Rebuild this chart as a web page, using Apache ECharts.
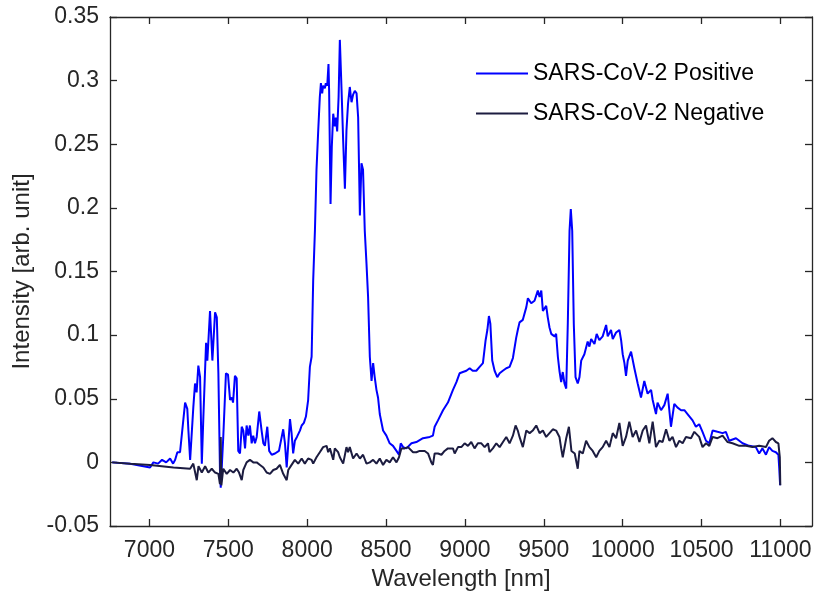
<!DOCTYPE html>
<html>
<head>
<meta charset="utf-8">
<script src="https://cdn.jsdelivr.net/npm/echarts@6/dist/echarts.min.js"></script>
<style>
html,body{margin:0;padding:0;background:#fff;}
#chart{width:817px;height:597px;}
</style>
</head>
<body>
<div id="chart"></div>
<script>
// ---- data ----
const seriesNames = ['SARS-CoV-2 Positive', 'SARS-CoV-2 Negative'];
const xTicks = [7000, 7500, 8000, 8500, 9000, 9500, 10000, 10500, 11000];

const posWavelength = [6764,6878,7004,7025,7055,7080,7106,7131,7150,7163,7177,7194,7226,7240,7247,7258,7278,7289,7299,7310,7321,7332,7342,7359,7367,7384,7399,7416,7427,7437,7447,7452,7468,7485,7498,7511,7522,7530,7542,7553,7563,7574,7585,7595,7606,7616,7627,7637,7648,7658,7669,7680,7696,7711,7722,7732,7747,7759,7775,7796,7821,7848,7859,7870,7891,7901,7911,7922,7935,7954,7965,7979,7992,8006,8017,8028,8038,8049,8059,8070,8080,8087,8095,8101,8112,8118,8127,8135,8139,8148,8156,8165,8175,8182,8190,8199,8207,8218,8228,8239,8249,8259,8270,8281,8291,8302,8313,8323,8334,8344,8354,8365,8376,8386,8397,8408,8418,8428,8439,8449,8460,8481,8502,8523,8544,8566,8582,8593,8608,8629,8661,8692,8734,8777,8797,8808,8829,8861,8892,8924,8946,8966,8987,9009,9030,9049,9072,9093,9114,9131,9142,9152,9161,9173,9188,9205,9220,9240,9262,9283,9304,9325,9335,9346,9367,9389,9399,9420,9441,9462,9473,9484,9494,9515,9525,9536,9547,9568,9578,9589,9599,9610,9620,9631,9642,9652,9663,9671,9680,9690,9701,9715,9726,9737,9757,9778,9789,9800,9821,9835,9852,9873,9895,9905,9926,9937,9958,9979,9990,10000,10011,10021,10032,10053,10074,10095,10116,10137,10158,10180,10190,10211,10221,10243,10264,10285,10306,10327,10348,10370,10391,10411,10443,10464,10485,10506,10528,10549,10570,10601,10633,10654,10675,10718,10760,10802,10844,10865,10886,10908,10928,10949,10971,10987,10992,10998];
const posIntensity = [0.000,-0.001,-0.004,0.000,-0.001,0.002,0.000,0.003,-0.001,0.002,0.008,0.008,0.047,0.042,0.025,0.002,0.043,0.062,0.055,0.076,0.067,-0.001,0.036,0.094,0.080,0.119,0.080,0.118,0.114,0.070,-0.006,-0.020,0.020,0.070,0.069,0.049,0.051,0.047,0.068,0.066,0.009,0.007,0.028,0.025,0.011,0.029,0.021,0.029,0.015,0.021,0.015,0.020,0.040,0.025,0.015,0.013,0.028,0.009,0.006,0.007,0.009,0.026,0.015,-0.004,0.034,0.023,0.007,0.017,0.020,0.025,0.029,0.031,0.036,0.049,0.075,0.083,0.143,0.182,0.230,0.261,0.287,0.298,0.290,0.296,0.294,0.298,0.296,0.313,0.292,0.203,0.248,0.274,0.264,0.271,0.260,0.287,0.332,0.292,0.253,0.215,0.261,0.282,0.295,0.283,0.289,0.292,0.290,0.271,0.194,0.235,0.230,0.182,0.156,0.130,0.083,0.064,0.078,0.067,0.057,0.051,0.038,0.025,0.021,0.015,0.013,0.009,0.006,0.015,0.012,0.011,0.015,0.016,0.019,0.020,0.021,0.028,0.033,0.041,0.047,0.057,0.063,0.070,0.071,0.072,0.074,0.072,0.072,0.075,0.078,0.096,0.104,0.115,0.109,0.080,0.072,0.067,0.070,0.072,0.074,0.075,0.082,0.098,0.104,0.110,0.112,0.122,0.129,0.125,0.127,0.135,0.130,0.135,0.119,0.123,0.114,0.106,0.101,0.099,0.101,0.083,0.072,0.063,0.071,0.062,0.058,0.109,0.182,0.199,0.182,0.109,0.067,0.062,0.067,0.080,0.085,0.095,0.091,0.097,0.093,0.101,0.096,0.099,0.108,0.099,0.104,0.097,0.102,0.104,0.096,0.085,0.078,0.068,0.080,0.087,0.074,0.062,0.051,0.064,0.054,0.057,0.049,0.038,0.047,0.041,0.045,0.054,0.028,0.046,0.043,0.041,0.041,0.038,0.033,0.028,0.030,0.024,0.017,0.015,0.025,0.024,0.023,0.024,0.017,0.019,0.015,0.013,0.012,0.007,0.011,0.006,0.012,0.009,0.008,0.006,-0.004,-0.018];

const negWavelength = [6764,6878,7004,7152,7258,7278,7300,7311,7332,7353,7373,7395,7416,7437,7447,7452,7456,7468,7490,7511,7532,7553,7568,7585,7595,7616,7637,7658,7680,7701,7722,7743,7764,7785,7806,7827,7848,7870,7880,7901,7922,7943,7965,7985,8006,8028,8038,8059,8080,8101,8123,8133,8144,8165,8175,8196,8207,8228,8249,8259,8270,8291,8313,8334,8354,8376,8397,8418,8439,8460,8481,8502,8523,8544,8566,8582,8597,8618,8639,8650,8671,8692,8713,8745,8766,8787,8797,8808,8829,8851,8871,8892,8924,8935,8956,8977,8998,9019,9040,9061,9082,9104,9125,9146,9156,9177,9199,9220,9241,9262,9283,9304,9321,9335,9346,9367,9389,9410,9430,9452,9473,9494,9515,9536,9557,9578,9599,9610,9620,9642,9659,9675,9696,9715,9726,9747,9768,9789,9810,9832,9852,9873,9895,9916,9937,9958,9979,10000,10021,10042,10063,10085,10106,10127,10148,10169,10190,10211,10232,10253,10275,10296,10316,10338,10359,10380,10401,10433,10454,10485,10506,10528,10549,10570,10601,10633,10665,10696,10739,10781,10823,10865,10908,10928,10949,10971,10987,10996,10999];
const negIntensity = [0.000,-0.001,-0.002,-0.004,-0.005,-0.001,-0.014,-0.003,-0.008,-0.003,-0.008,-0.005,-0.008,-0.009,-0.017,0.020,-0.018,-0.005,-0.009,-0.006,-0.008,-0.005,-0.008,-0.014,-0.006,0.000,0.002,0.000,0.000,-0.002,-0.004,-0.008,-0.009,-0.006,-0.005,-0.002,-0.009,-0.014,-0.006,-0.002,0.002,-0.001,0.003,-0.001,0.003,0.002,-0.001,0.004,0.008,0.012,0.013,0.008,0.011,0.002,0.011,0.008,0.004,-0.001,0.012,0.008,0.012,0.003,0.007,0.003,0.006,-0.001,0.000,0.002,-0.001,0.003,-0.002,0.002,0.000,0.004,0.000,0.004,0.011,0.011,0.012,0.012,0.008,0.008,0.009,0.009,0.007,0.000,-0.002,0.007,0.007,0.006,0.009,0.011,0.011,0.007,0.012,0.012,0.015,0.013,0.016,0.011,0.015,0.015,0.012,0.015,0.008,0.011,0.015,0.012,0.016,0.020,0.015,0.021,0.029,0.025,0.020,0.012,0.025,0.023,0.025,0.029,0.023,0.025,0.020,0.023,0.026,0.025,0.020,0.011,0.004,0.019,0.028,0.009,0.007,-0.005,0.009,0.007,0.017,0.012,0.009,0.004,0.009,0.012,0.017,0.012,0.023,0.019,0.031,0.013,0.020,0.032,0.020,0.025,0.016,0.025,0.029,0.015,0.032,0.012,0.017,0.016,0.026,0.017,0.020,0.012,0.017,0.015,0.020,0.019,0.024,0.020,0.012,0.015,0.013,0.020,0.019,0.021,0.016,0.015,0.013,0.013,0.012,0.013,0.012,0.017,0.019,0.016,0.015,0.004,-0.018];

// ---- chart ----
const FONT = '"Liberation Sans", Arial, Helvetica, sans-serif';
const AXIS_COLOR = '#262626';
const POS_COLOR = '#0000ff';
const NEG_COLOR = '#1c1c40';
const pair = (xs, ys) => xs.map((x, i) => [x, ys[i]]);
const fmtY = v => String(parseFloat(v.toFixed(2)));
const fmtX = v => String(Math.round(v));

const chart = echarts.init(document.getElementById('chart'), null, {renderer: 'canvas'});
const axisCommon = {
  axisLine: {show: true, onZero: false, lineStyle: {color: AXIS_COLOR, width: 1.3}},
  axisTick: {show: true, inside: true, length: 7, lineStyle: {color: AXIS_COLOR, width: 1.3}},
  splitLine: {show: false}
};
chart.setOption({
  animation: false,
  backgroundColor: '#ffffff',
  textStyle: {fontFamily: FONT},
  grid: {left: 110, right: 5, top: 17, bottom: 71, containLabel: false},
  legend: {
    data: [
      {name: seriesNames[0], itemStyle: {color: POS_COLOR}},
      {name: seriesNames[1], itemStyle: {color: NEG_COLOR}}
    ],
    orient: 'vertical',
    left: 471,
    top: 57,
    icon: 'rect',
    itemWidth: 52,
    itemHeight: 2,
    itemGap: 17,
    textStyle: {fontFamily: FONT, fontSize: 23, color: '#000000', padding: [0, 0, 0, 0]}
  },
  xAxis: [
    Object.assign({}, axisCommon, {
      type: 'value', min: 6750, max: 11200, position: 'bottom',
      name: 'Wavelength [nm]', nameLocation: 'middle', nameGap: 40,
      nameTextStyle: {fontFamily: FONT, fontSize: 24, color: AXIS_COLOR},
      axisTick: Object.assign({}, axisCommon.axisTick, {customValues: xTicks}),
      axisLabel: {customValues: xTicks, fontFamily: FONT, fontSize: 23, color: AXIS_COLOR, margin: 13, formatter: fmtX}
    }),
    Object.assign({}, axisCommon, {
      type: 'value', min: 6750, max: 11200, position: 'top',
      axisTick: Object.assign({}, axisCommon.axisTick, {customValues: xTicks}),
      axisLabel: {show: false}
    })
  ],
  yAxis: [
    Object.assign({}, axisCommon, {
      type: 'value', min: -0.05, max: 0.35, interval: 0.05, position: 'left',
      name: 'Intensity [arb. unit]', nameLocation: 'middle', nameGap: 76,
      nameTextStyle: {fontFamily: FONT, fontSize: 24, color: AXIS_COLOR},
      axisLabel: {fontFamily: FONT, fontSize: 23, color: AXIS_COLOR, margin: 11, formatter: fmtY}
    }),
    Object.assign({}, axisCommon, {
      type: 'value', min: -0.05, max: 0.35, interval: 0.05, position: 'right',
      axisLabel: {show: false}
    })
  ],
  series: [
    {
      name: seriesNames[0], type: 'line', data: pair(posWavelength, posIntensity),
      symbol: 'none', lineStyle: {color: POS_COLOR, width: 2}, itemStyle: {color: POS_COLOR}
    },
    {
      name: seriesNames[1], type: 'line', data: pair(negWavelength, negIntensity),
      symbol: 'none', lineStyle: {color: NEG_COLOR, width: 2}, itemStyle: {color: NEG_COLOR}
    }
  ]
});
</script>
</body>
</html>
